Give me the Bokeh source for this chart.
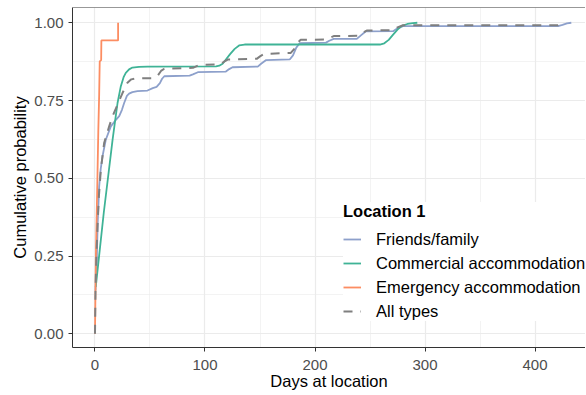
from bokeh.plotting import figure
from bokeh.models import Range1d, FixedTicker, Legend, LegendItem, Span, NumeralTickFormatter
from bokeh.embed import file_html
from bokeh.resources import INLINE

# ---- data ----
ff_days = [0.5, 1.6, 2.5, 3.8, 5.2, 6.8, 9.8, 14.4, 19, 22, 24.5, 26.5, 29, 31, 34, 38.6, 47.7, 52.5, 56, 59,
           61, 63, 86, 89, 93.5, 119, 122, 125, 148, 151, 155.6, 177, 180, 183, 186, 210, 213, 217, 238, 242,
           246, 271, 275, 280, 421, 425, 429, 433]
ff_prob = [0.14, 0.237, 0.36, 0.474, 0.53, 0.570, 0.624, 0.667, 0.688, 0.70, 0.72, 0.742, 0.765, 0.772, 0.777, 0.780, 0.782, 0.79, 0.794, 0.806,
           0.82, 0.828, 0.830, 0.834, 0.841, 0.843, 0.851, 0.857, 0.859, 0.868, 0.880, 0.882, 0.895, 0.920, 0.934, 0.936, 0.942, 0.948, 0.948, 0.96,
           0.972, 0.973, 0.982, 0.989, 0.989, 0.993, 0.998, 1.0]

cm_days = [0.7, 8, 16, 18.5, 20.5, 23.5, 26, 28, 31, 34, 40, 47.7, 110, 113, 116, 119, 123, 127, 131, 136,
           259, 263, 267, 271, 275, 279, 284, 289, 293]
cm_prob = [0.151, 0.39, 0.624, 0.69, 0.742, 0.796, 0.825, 0.839, 0.85, 0.856, 0.858, 0.859, 0.860, 0.862, 0.868, 0.882, 0.900, 0.916, 0.927, 0.930,
           0.930, 0.934, 0.945, 0.962, 0.978, 0.990, 0.996, 0.999, 1.0]

em_days = [0, 0.8, 2.2, 3, 3.8, 4.3, 5.6, 5.8, 21, 21]
em_prob = [0, 0.25, 0.5, 0.65, 0.77, 0.876, 0.88, 0.943, 0.943, 1.0]

al_days = [0, 0.5, 1.3, 2.3, 3.5, 5.3, 8.3, 12.9, 16, 20.5, 25, 29.5, 33, 37, 54, 57, 60, 63, 89, 92,
           95, 114, 117, 121, 147, 150, 154, 178, 181, 184, 187, 210, 213, 217, 240, 243, 247, 271, 275, 280,
           421, 425, 428]
al_prob = [0, 0.15, 0.25, 0.345, 0.44, 0.527, 0.613, 0.667, 0.70, 0.737, 0.774, 0.807, 0.818, 0.821, 0.822, 0.83, 0.845, 0.852, 0.855, 0.86,
           0.865, 0.866, 0.874, 0.882, 0.884, 0.892, 0.900, 0.903, 0.915, 0.935, 0.945, 0.946, 0.951, 0.957, 0.958, 0.967, 0.975, 0.976, 0.985, 0.992,
           0.992, 0.997, 1.0]

x_ticks = [0, 100, 200, 300, 400]
x_minor = [-50, 50, 150, 250, 350, 450]
y_ticks = [0, 0.25, 0.5, 0.75, 1.0]
y_minor = [0.125, 0.375, 0.625, 0.875]

labels = ["Friends/family", "Commercial accommodation", "Emergency accommodation", "All types"]
colors = ["#8DA0CB", "#3FB396", "#FC8D62", "#7F7F7F"]

FONT = "Liberation Sans"
Y_TOP = 1.049

p = figure(width=585, height=392, output_backend="svg", toolbar_location=None,
           x_range=Range1d(-20.45, 445.9), y_range=Range1d(-0.044, Y_TOP),
           min_border_left=72, min_border_right=0, min_border_top=7, min_border_bottom=0,
           background_fill_color="white", border_fill_color="white")
p.outline_line_color = None

r1 = p.line(ff_days, ff_prob, line_color=colors[0], line_width=1.8)
r2 = p.line(cm_days, cm_prob, line_color=colors[1], line_width=1.8)
r3 = p.line(em_days, em_prob, line_color=colors[2], line_width=1.8)
r4 = p.line(al_days, al_prob, line_color=colors[3], line_width=2, line_dash="9 8")

# top border of panel
p.add_layout(Span(location=Y_TOP, dimension="width", line_color="#333333", line_width=1))

xt = FixedTicker(ticks=x_ticks, minor_ticks=x_minor)
yt = FixedTicker(ticks=y_ticks, minor_ticks=y_minor)
p.xaxis.ticker = xt
p.yaxis.ticker = yt
p.xgrid.ticker = xt
p.ygrid.ticker = yt
p.yaxis.formatter = NumeralTickFormatter(format="0.00")

for g in (p.xgrid, p.ygrid):
    g.grid_line_color = "#EBEBEB"
    g.grid_line_width = 1.2
    g.minor_grid_line_color = "#EBEBEB"
    g.minor_grid_line_width = 0.6

for ax in (p.xaxis, p.yaxis):
    ax.axis_line_color = "#333333"
    ax.axis_line_width = 1
    ax.major_tick_line_color = "#333333"
    ax.major_tick_out = 4
    ax.major_tick_in = 0
    ax.minor_tick_line_color = None
    ax.major_label_text_font = FONT
    ax.major_label_text_font_size = "15px"
    ax.major_label_text_color = "#4D4D4D"
    ax.axis_label_text_font = FONT
    ax.axis_label_text_font_size = "16.5px"
    ax.axis_label_text_font_style = "normal"
    ax.axis_label_text_color = "black"

p.xaxis.axis_label = "Days at location"
p.yaxis.axis_label = "Cumulative probability"
p.xaxis.major_label_standoff = 8
p.xaxis.axis_label_standoff = -1
p.yaxis.major_label_standoff = 5
p.yaxis.axis_label_standoff = 2

legend = Legend(
    items=[LegendItem(label=labels[0], renderers=[r1]),
           LegendItem(label=labels[1], renderers=[r2]),
           LegendItem(label=labels[2], renderers=[r3]),
           LegendItem(label=labels[3], renderers=[r4])],
    title="Location 1", location=(271, 26),
    title_text_font=FONT, title_text_font_size="16.5px", title_text_font_style="bold",
    title_text_color="black", title_standoff=8,
    label_text_font=FONT, label_text_font_size="16.5px", label_text_color="black",
    glyph_width=18, glyph_height=20, label_height=20, label_standoff=15,
    spacing=4, padding=9, margin=0,
    background_fill_color="white", background_fill_alpha=1.0, border_line_color=None,
)
p.add_layout(legend)

open("out.html", "w").write(file_html(p, INLINE))
